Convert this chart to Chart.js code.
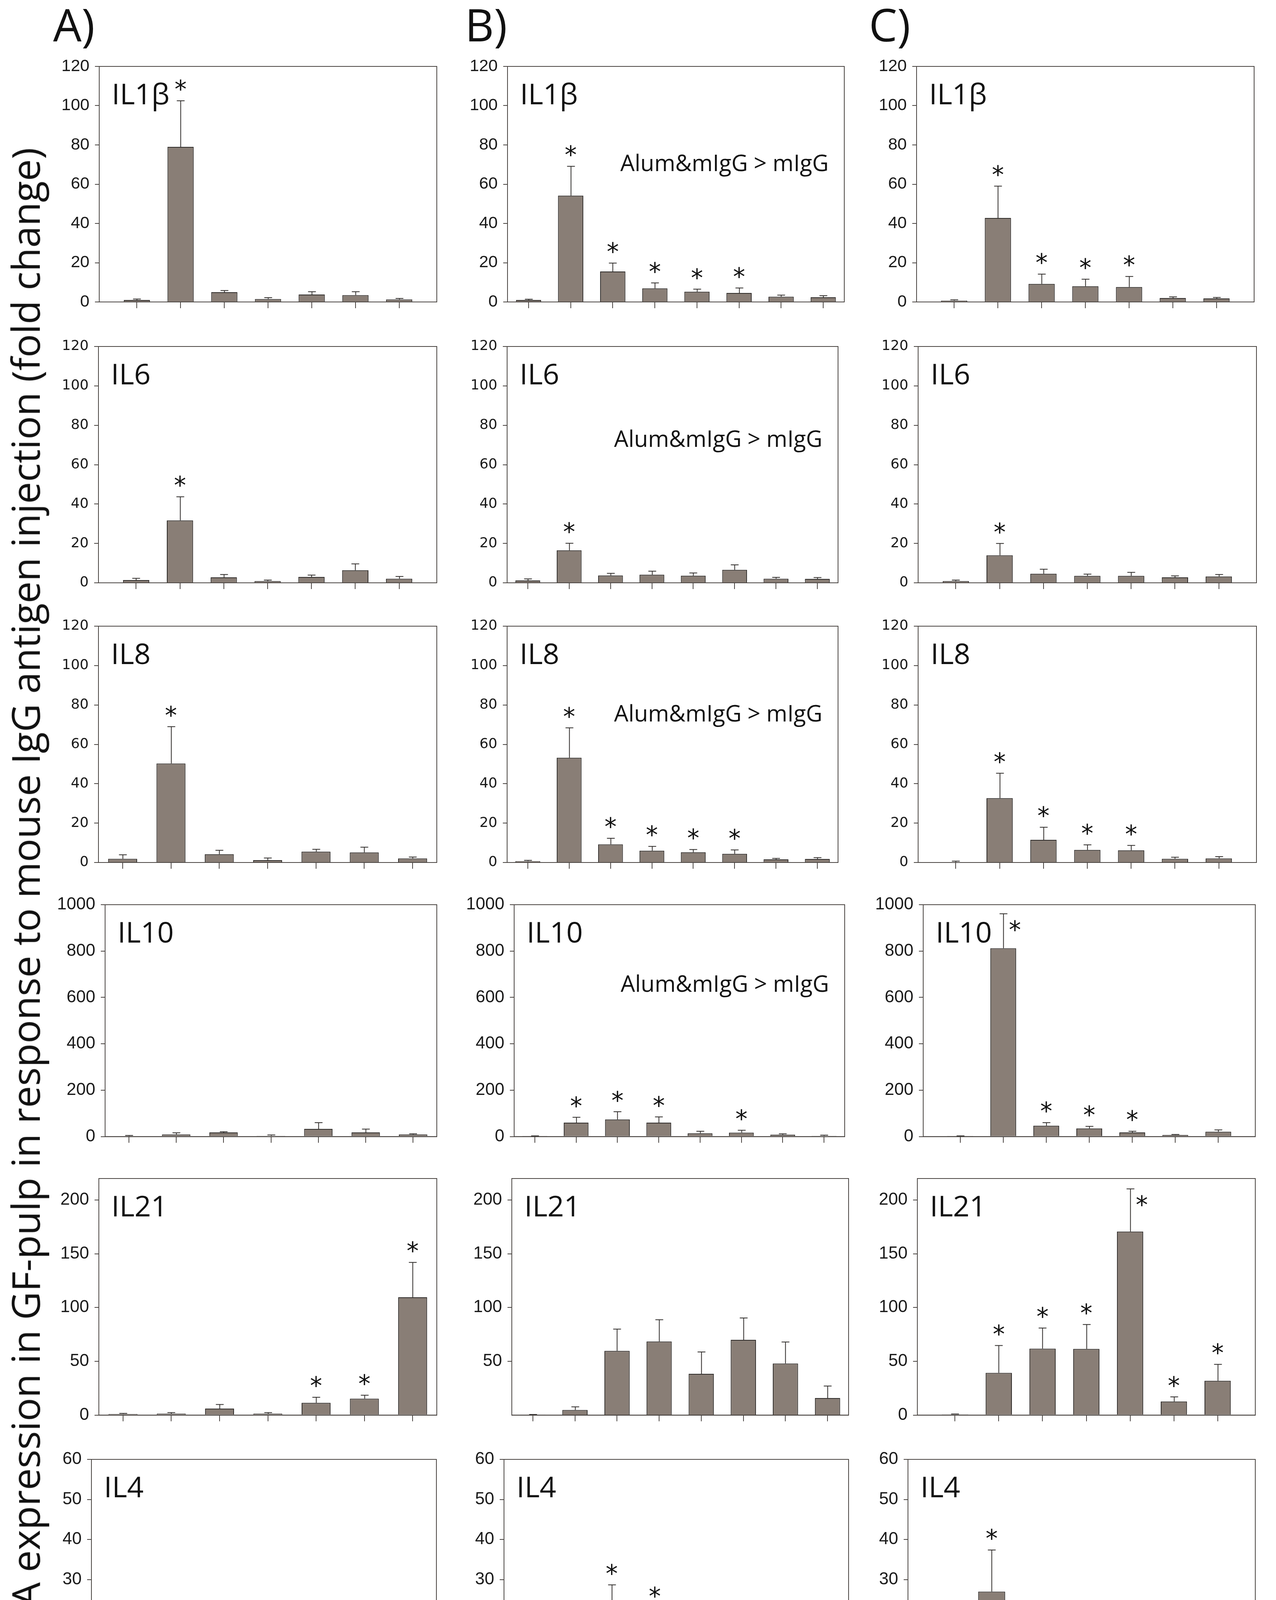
<!DOCTYPE html>
<html>
<head>
<meta charset="utf-8">
<script src="https://cdn.jsdelivr.net/npm/chart.js@4.4.1/dist/chart.umd.min.js"></script>
<style>
  body { margin: 0; background: #fff; }
  #page { position: relative; width: 3266px; height: 5382px; background: #fff; overflow: hidden; }
  #page canvas { position: absolute; }
  .txt { position: absolute; font-family: 'Open Sans', sans-serif; color: #111; white-space: nowrap; }
</style>
</head>
<body>
<div id="page"></div>
<script>
// ---- categories ----
const DAYS_AC = ['0', '6 h', '1', '2', '3', '4', '5'];
const DAYS_B = ['0', '6 h', '1', '2', '3', '4', '5', '7'];

// ---- y tick values ----
const TICKS_120 = [0, 20, 40, 60, 80, 100, 120];
const TICKS_1000 = [0, 200, 400, 600, 800, 1000];
const TICKS_IL21 = [0, 50, 100, 150, 200];
const TICKS_IL21_NOZERO = [50, 100, 150, 200];
const TICKS_60 = [0, 10, 20, 30, 40, 50, 60];
const TICKS_30 = [0, 5, 10, 15, 20, 25, 30];
const TICKS_30_NOZERO = [5, 10, 15, 20, 25, 30];

// ---- column A (mean, SE, significant categories) ----
const IL1B_A = [1.0, 79, 5.0, 1.5, 3.8, 3.5, 1.3];
const IL1B_A_SE = [0.5, 23.5, 0.8, 0.7, 1.4, 1.7, 0.5];
const IL1B_A_SIG = [1];
const IL6_A = [1.4, 31.7, 2.8, 0.9, 3.0, 6.4, 2.1];
const IL6_A_SE = [0.9, 12, 1.4, 0.5, 0.9, 3.2, 1.1];
const IL6_A_SIG = [1];
const IL8_A = [1.9, 50.3, 4.2, 1.2, 5.5, 5.1, 2.1];
const IL8_A_SE = [2.0, 18.7, 2.0, 1.1, 1.2, 2.7, 0.7];
const IL8_A_SIG = [1];
const IL10_A = [2, 9, 18, 3, 33, 18, 9];
const IL10_A_SE = [3, 7, 3, 4, 27, 14, 3];
const IL10_A_SIG = [];
const IL21_A = [1.0, 1.3, 6.0, 1.3, 11.4, 15.3, 109.6];
const IL21_A_SE = [0.6, 1.0, 3.8, 1.0, 5.2, 3.2, 32.4];
const IL21_A_SIG = [4, 5, 6];
const IL4_A = [3.0, 0.9, 5.4, 3.3, 2.8, 3.4, 5.7];
const IL4_A_SE = [1.8, 0.4, 2.2, 2.1, 1.2, 1.4, 2.6];
const IL4_A_SIG = [];
const IFNG_A = [0.98, 1.8, 3.2, 2.1, 2.7, 2.8, 3.4];
const IFNG_A_SE = [0.2, 0.6, 0.9, 0.3, 0.9, 0.6, 0.6];
const IFNG_A_SIG = [2, 5];

// ---- column B ----
const IL1B_B = [1.0, 54.2, 15.5, 6.9, 5.2, 4.6, 2.7, 2.4];
const IL1B_B_SE = [0.4, 14.9, 4.3, 2.8, 1.3, 2.5, 0.8, 0.8];
const IL1B_B_SIG = [1, 2, 3, 4, 5];
const IL6_B = [1.2, 16.5, 3.7, 4.1, 3.6, 6.6, 2.1, 2.0];
const IL6_B_SE = [0.8, 3.6, 1.1, 1.8, 1.4, 2.5, 0.7, 0.7];
const IL6_B_SIG = [1];
const IL8_B = [0.7, 53.2, 9.2, 6.0, 5.2, 4.4, 1.6, 1.8];
const IL8_B_SE = [0.4, 15.2, 3.1, 2.2, 1.4, 2.0, 0.5, 0.7];
const IL8_B_SIG = [1, 2, 3, 4, 5];
const IL10_B = [1, 60, 74, 60, 14, 17, 8, 3];
const IL10_B_SE = [2, 23, 33, 25, 9, 10, 4, 3];
const IL10_B_SIG = [1, 2, 3, 5];
const IL21_B = [0.3, 4.8, 59.7, 68.4, 38.4, 70, 48, 15.8];
const IL21_B_SE = [0.3, 2.9, 20.3, 20.3, 20.3, 20.3, 20, 11.2];
const IL21_B_SIG = [];
const IL4_B = [1.6, 6.4, 20.7, 16.6, 3.7, 4.2, 3.7, 2.3];
const IL4_B_SE = [0.5, 1.8, 8.0, 6.4, 0.7, 1.0, 1.3, 1.2];
const IL4_B_SIG = [2, 3];
const IFNG_B = [1.06, 1.8, 7.4, 9.9, 5.6, 10.3, 6.5, 4.2];
const IFNG_B_SE = [0.2, 0.6, 1.2, 2.9, 1.6, 3.0, 2.8, 1.1];
const IFNG_B_SIG = [2, 3, 4, 5, 6];

// ---- column C ----
const IL1B_C = [0.7, 42.8, 9.2, 8.0, 7.6, 2.0, 1.8];
const IL1B_C_SE = [0.4, 16.2, 5.0, 3.6, 5.4, 0.6, 0.5];
const IL1B_C_SIG = [1, 2, 3, 4];
const IL6_C = [0.9, 14, 4.6, 3.5, 3.5, 2.8, 3.2];
const IL6_C_SE = [0.5, 6, 2.3, 0.9, 1.8, 0.7, 1.0];
const IL6_C_SIG = [1];
const IL8_C = [0.2, 32.7, 11.5, 6.4, 6.2, 1.9, 2.1];
const IL8_C_SE = [0.5, 12.6, 6.4, 2.6, 2.5, 0.8, 0.9];
const IL8_C_SIG = [1, 2, 3, 4];
const IL10_C = [1, 812, 47, 35, 18, 7, 21];
const IL10_C_SE = [2, 149, 13, 9, 5, 2, 8];
const IL10_C_SIG = [1, 2, 3, 4];
const IL21_C = [0.7, 39.3, 61.8, 61.5, 170.7, 12.7, 31.9];
const IL21_C_SE = [0.3, 25.4, 19.2, 22.7, 39.7, 4.2, 15.3];
const IL21_C_SIG = [1, 2, 3, 4, 5, 6];
const IL4_C = [4.0, 27.0, 8.5, 2.4, 2.8, 1.0, 2.1];
const IL4_C_SE = [1.0, 10.4, 3.8, 0.6, 0.5, 0.4, 0.3];
const IL4_C_SIG = [1];
const IFNG_C = [1.1, 4.8, 4.6, 12.7, 21.6, 11.8, 5.9];
const IFNG_C_SE = [0.2, 1.6, 1.2, 3.3, 3.3, 3.7, 2.1];
const IFNG_C_SIG = [3, 4, 5, 6];

const NAMES = ['IL1\u03b2', 'IL6', 'IL8', 'IL10', 'IL21', 'IL4', 'IFN\u03b3'];
const ALUM = 'Alum&mIgG > mIgG';

// panels: [col, row, mean, se, sig, ticks, yMin, yMax, alum, sideStars]
const PANELS = [
  [0, 0, IL1B_A, IL1B_A_SE, IL1B_A_SIG, TICKS_120, 0, 120, false, []],
  [0, 1, IL6_A, IL6_A_SE, IL6_A_SIG, TICKS_120, 0, 120, false, []],
  [0, 2, IL8_A, IL8_A_SE, IL8_A_SIG, TICKS_120, 0, 120, false, []],
  [0, 3, IL10_A, IL10_A_SE, IL10_A_SIG, TICKS_1000, 0, 1000, false, []],
  [0, 4, IL21_A, IL21_A_SE, IL21_A_SIG, TICKS_IL21, 0, 220, false, []],
  [0, 5, IL4_A, IL4_A_SE, IL4_A_SIG, TICKS_60, 0, 60, false, []],
  [0, 6, IFNG_A, IFNG_A_SE, IFNG_A_SIG, TICKS_30_NOZERO, 0.85, 30, false, []],
  [1, 0, IL1B_B, IL1B_B_SE, IL1B_B_SIG, TICKS_120, 0, 120, true, []],
  [1, 1, IL6_B, IL6_B_SE, IL6_B_SIG, TICKS_120, 0, 120, true, []],
  [1, 2, IL8_B, IL8_B_SE, IL8_B_SIG, TICKS_120, 0, 120, true, []],
  [1, 3, IL10_B, IL10_B_SE, IL10_B_SIG, TICKS_1000, 0, 1000, true, []],
  [1, 4, IL21_B, IL21_B_SE, IL21_B_SIG, TICKS_IL21_NOZERO, 0, 220, false, []],
  [1, 5, IL4_B, IL4_B_SE, IL4_B_SIG, TICKS_60, 0, 60, false, []],
  [1, 6, IFNG_B, IFNG_B_SE, IFNG_B_SIG, TICKS_30_NOZERO, 0.85, 30, true, []],
  [2, 0, IL1B_C, IL1B_C_SE, IL1B_C_SIG, TICKS_120, 0, 120, false, []],
  [2, 1, IL6_C, IL6_C_SE, IL6_C_SIG, TICKS_120, 0, 120, false, []],
  [2, 2, IL8_C, IL8_C_SE, IL8_C_SIG, TICKS_120, 0, 120, false, []],
  [2, 3, IL10_C, IL10_C_SE, IL10_C_SIG, TICKS_1000, 0, 1000, false, [1]],
  [2, 4, IL21_C, IL21_C_SE, IL21_C_SIG, TICKS_IL21, 0, 220, false, [4]],
  [2, 5, IL4_C, IL4_C_SE, IL4_C_SIG, TICKS_60, 0, 60, false, []],
  [2, 6, IFNG_C, IFNG_C_SE, IFNG_C_SIG, TICKS_30, 0, 30, false, []],
];

// ---- layout (pixel boxes of each plot frame) ----
const BOX_X = [
  [[254, 1118], [1299, 2161], [2346, 3210]],
  [[252, 1118], [1298, 2145], [2350, 3216]],
  [[252, 1118], [1298, 2145], [2350, 3216]],
  [[269, 1118], [1316, 2162], [2363, 3213]],
  [[253, 1118], [1310, 2172], [2348, 3213]],
  [[234, 1117], [1290, 2172], [2324, 3213]],
  [[234, 1117], [1283, 2168], [2326, 3213]],
];
const BOX_Y = [[170, 773], [887, 1492], [1603, 2208], [2316, 2910], [3017, 3623], [3736, 4352], [4466, 5079]];
const ALUM_DY = [268, 257, 244, 223, 0, 0, 223];

const BAR_FILL = '#897e76';
const INK = '#2e2b29';
const FRAME = '#4a4542';

const page = document.getElementById('page');

function hasFont(name) {
  const c = document.createElement('canvas').getContext('2d');
  c.font = '40px monospace';
  const a = c.measureText('1000 abcmw').width;
  c.font = '40px "' + name + '", monospace';
  return Math.abs(c.measureText('1000 abcmw').width - a) > 0.5;
}
const NARROW = hasFont('Liberation Sans Narrow');
const ROW_TICK_FONT = [
  { family: '"Liberation Sans"', size: 43 },
  { family: '"DejaVu Sans"', size: 36 },
  { family: '"DejaVu Sans"', size: 36 },
];
const LOW_TICK_FONT = NARROW ? { family: '"Liberation Sans Narrow"', size: 48 } : { family: '"Liberation Sans"', size: 44 };
const XLAB_FONT = NARROW ? { family: '"Liberation Sans Narrow"', size: 58 } : { family: '"Liberation Sans"', size: 52 };

function padFor(col, row) {
  if (col === 1) return 0.5;
  if (col === 0 && row >= 2) return 0.5;
  return 0.86;
}

function deco(p) {
  return {
    id: 'deco',
    afterDatasetsDraw(chart) {
      const { ctx } = chart;
      const xs = chart.scales.x, ys = chart.scales.y;
      ctx.save();
      ctx.strokeStyle = INK;
      ctx.lineWidth = 2;
      p.mean.forEach((m, i) => {
        const cx = Math.round(xs.getPixelForValue(i)) + 0.5;
        const y0 = ys.getPixelForValue(Math.max(m, ys.min));
        const y1 = ys.getPixelForValue(m + p.se[i]);
        ctx.beginPath();
        ctx.moveTo(cx, y0);
        ctx.lineTo(cx, y1);
        ctx.moveTo(cx - 10, y1);
        ctx.lineTo(cx + 10, y1);
        ctx.stroke();
      });
      ctx.restore();
    },
    afterDraw(chart) {
      const { ctx, chartArea: a } = chart;
      const xs = chart.scales.x, ys = chart.scales.y;
      ctx.save();
      ctx.strokeStyle = FRAME;
      ctx.lineWidth = 2;
      ctx.strokeRect(a.left, a.top, a.right - a.left, a.bottom - a.top);

      ctx.fillStyle = '#111';
      ctx.textBaseline = 'alphabetic';
      ctx.textAlign = 'left';
      ctx.font = '74px "Open Sans"';
      ctx.fillText(p.name, a.left + 32, a.top + 97);

      if (p.alum) {
        ctx.textAlign = 'right';
        ctx.font = '58px "Open Sans"';
        ctx.fillText(ALUM, a.right - 40, a.top + ALUM_DY[p.row]);
      }

      ctx.font = '62px "DejaVu Sans"';
      ctx.textAlign = 'center';
      const mt = ctx.measureText('*');
      const lift = (mt.actualBoundingBoxAscent - mt.actualBoundingBoxDescent) / 2;
      p.sig.forEach(i => {
        const cx = xs.getPixelForValue(i);
        const top = ys.getPixelForValue(p.mean[i] + p.se[i]);
        if (p.side.includes(i)) {
          ctx.fillText('*', cx + 30, top + 30 + lift);
        } else {
          ctx.fillText('*', cx, top - 40 + lift);
        }
      });
      ctx.restore();
    }
  };
}

function makePanel(row) {
  const [col, r, mean, se, sig, ticks, yMin, yMax, alum, side] = row;
  const labels = col === 1 ? DAYS_B : DAYS_AC;
  const n = labels.length;
  const pad = padFor(col, r);
  const [L, R] = BOX_X[r][col];
  const [T, B] = BOX_Y[r];
  const last = r === 6;
  const YW = 170, PT = 50, PR = 40, XH = last ? 150 : 40;

  const cv = document.createElement('canvas');
  cv.width = (R - L) + YW + PR;
  cv.height = (B - T) + PT + XH;
  cv.style.left = (L - YW) + 'px';
  cv.style.top = (T - PT) + 'px';
  page.appendChild(cv);

  const p = { row: r, name: NAMES[r], mean, se, sig, side, alum };
  const tickFont = r < 3 ? ROW_TICK_FONT[r] : LOW_TICK_FONT;

  new Chart(cv, {
    type: 'bar',
    data: {
      datasets: [{
        data: mean.map((v, i) => ({ x: i, y: v })),
        backgroundColor: BAR_FILL,
        borderColor: INK,
        borderWidth: 2,
        borderSkipped: 'start',
        barPercentage: 0.6,
        categoryPercentage: 1
      }]
    },
    options: {
      responsive: false,
      animation: false,
      devicePixelRatio: 1,
      layout: { padding: { top: PT, right: PR, left: 0, bottom: 0 } },
      plugins: { legend: { display: false }, tooltip: { enabled: false } },
      scales: {
        x: {
          type: 'linear',
          min: -pad,
          max: n - 1 + pad,
          offset: false,
          grid: { offset: false, drawOnChartArea: false, drawTicks: true, tickLength: 16, color: FRAME, lineWidth: 2 },
          border: { display: true, color: FRAME, width: 2 },
          ticks: {
            display: last,
            padding: 6,
            color: '#111',
            font: XLAB_FONT,
            maxRotation: 0,
            autoSkip: false,
            callback: v => labels[v]
          },
          afterBuildTicks: s => { s.ticks = labels.map((_, i) => ({ value: i })); },
          afterFit: s => { s.height = XH; }
        },
        y: {
          min: yMin,
          max: yMax,
          grid: { drawOnChartArea: false, drawTicks: true, tickLength: 11, color: FRAME, lineWidth: 2 },
          border: { display: true, color: FRAME, width: 2 },
          ticks: { padding: 14, color: '#1a1a1a', font: tickFont, callback: v => String(v) },
          afterBuildTicks: s => { s.ticks = ticks.map(v => ({ value: v })); },
          afterFit: s => { s.width = YW; }
        }
      }
    },
    plugins: [deco(p)]
  });
}

PANELS.forEach(makePanel);

// ---- titles ----
const measure = document.createElement('canvas').getContext('2d');
function fitSize(text, target) {
  measure.font = '100px "Open Sans"';
  return 100 * target / measure.measureText(text).width;
}
function addText(text, size, left, baseline) {
  const d = document.createElement('div');
  d.className = 'txt';
  d.textContent = text;
  d.style.fontSize = size + 'px';
  d.style.lineHeight = size + 'px';
  d.style.left = left + 'px';
  d.style.top = (baseline - 0.888 * size) + 'px';
  page.appendChild(d);
  return d;
}

addText('A)', 115, 136, 106);
addText('B)', 115, 1190, 106);
addText('C)', 115, 2224, 106);

const XT = 'Time (days) post intradermal GF-pulp injection of mouse IgG antigen';
const xSize = fitSize(XT, 2958);
addText(XT, xSize, 240, 5328);

const YT = 'Cytokine mRNA expression in GF-pulp in response to mouse IgG antigen injection (fold change)';
const ySize = fitSize(YT, 4394);
const yd = document.createElement('div');
yd.className = 'txt';
yd.textContent = YT;
yd.style.fontSize = ySize + 'px';
yd.style.lineHeight = ySize + 'px';
page.appendChild(yd);
const w = yd.offsetWidth, h = yd.offsetHeight;
yd.style.left = (64 - w / 2) + 'px';
yd.style.top = (2575 - h / 2) + 'px';
yd.style.transform = 'rotate(-90deg)';
</script>
</body>
</html>
